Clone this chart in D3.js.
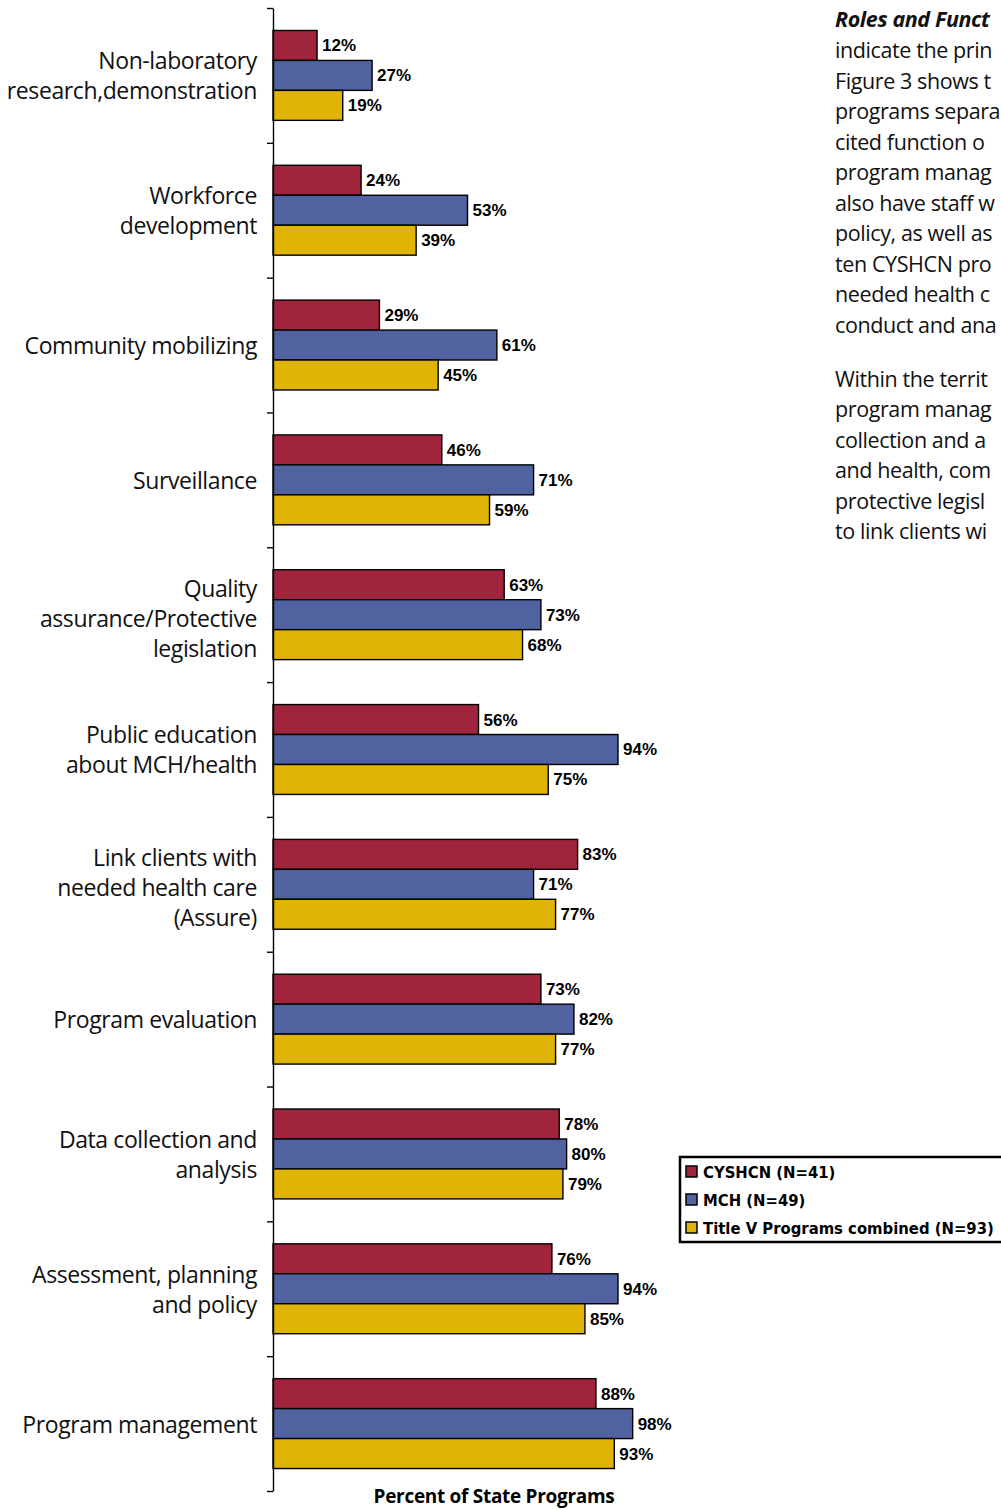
<!DOCTYPE html>
<html>
<head>
<meta charset="utf-8">
<script src="https://cdn.jsdelivr.net/npm/d3@7"></script>
<style>
  body { margin: 0; background: #fff; }
  svg { display: block; }
</style>
</head>
<body>
<div id="chart"></div>
<script>
// Categories, top to bottom, with line breaks as in the figure.
const categories = [
    ['Non-laboratory', 'research,demonstration'],
    ['Workforce', 'development'],
    ['Community mobilizing'],
    ['Surveillance'],
    ['Quality', 'assurance/Protective', 'legislation'],
    ['Public education', 'about MCH/health'],
    ['Link clients with', 'needed health care', '(Assure)'],
    ['Program evaluation'],
    ['Data collection and', 'analysis'],
    ['Assessment, planning', 'and policy'],
    ['Program management']
];
const seriesNames = ['CYSHCN (N=41)', 'MCH (N=49)', 'Title V Programs combined (N=93)'];
const cyshcn = [12, 24, 29, 46, 63, 56, 83, 73, 78, 76, 88];
const mch = [27, 53, 61, 71, 73, 94, 71, 82, 80, 94, 98];
const titleV = [19, 39, 45, 59, 68, 75, 77, 77, 79, 85, 93];
const colors = ['#a0243b', '#5062a0', '#dfb406'];
const xTitle = 'Percent of State Programs';

// Body text beside the chart, as far as it shows before the page edge.
const sideTitle = 'Roles and Funct';
const para1 = [
    'indicate the prin',
    'Figure 3 shows t',
    'programs separa',
    'cited function o',
    'program manag',
    'also have staff w',
    'policy, as well as',
    'ten CYSHCN pro',
    'needed health c',
    'conduct and ana'
];
const para2 = [
    'Within the territ',
    'program manag',
    'collection and a',
    'and health, com',
    'protective legisl',
    'to link clients wi'
];

const width = 1001, height = 1509;
const svg = d3.select('#chart')
    .append('svg')
        .attr('width', width)
        .attr('height', height)
        .attr('viewBox', `0 0 ${width} ${height}`);

const labelFont = "'Open Sans', 'Noto Sans', sans-serif";

// Scales.
const x = d3.scaleLinear()
    .domain([0, 100])
    .range([273, 640]);
const y0 = d3.scaleBand()
    .domain(d3.range(categories.length))
    .range([8, 1491]);
const y1 = d3.scaleBand()
    .domain(d3.range(seriesNames.length))
    .range([0, y0.bandwidth()])
    .paddingOuter(0.75);
const yTicks = d3.scaleLinear()
    .domain([0, categories.length])
    .range([8, 1491]);

const rows = categories.map((c, i) => ({
    lines: c,
    values: [cyshcn[i], mch[i], titleV[i]]
}));

// Bars.
const groups = svg.selectAll('g.cat')
    .data(rows)
    .enter()
    .append('g')
        .attr('class', 'cat')
        .attr('transform', (d, i) => `translate(0,${y0(i)})`);

groups.selectAll('rect')
    .data(d => d.values)
    .enter()
    .append('rect')
        .attr('x', x(0))
        .attr('y', (d, j) => y1(j))
        .attr('width', d => x(d) - x(0))
        .attr('height', y1.bandwidth())
        .attr('fill', (d, j) => colors[j])
        .attr('stroke', '#000')
        .attr('stroke-width', 1.4);

// Value labels.
groups.selectAll('text.val')
    .data(d => d.values)
    .enter()
    .append('text')
        .attr('class', 'val')
        .attr('x', d => x(d) + 5)
        .attr('y', (d, j) => y1(j) + y1.bandwidth() / 2 + 6)
        .style('font-family', "'Liberation Sans', Arial, sans-serif")
        .style('font-weight', 'bold')
        .style('font-size', '17px')
        .text(d => `${d}%`);

// Category labels.
groups.append('text')
    .attr('text-anchor', 'end')
    .style('font-family', labelFont)
    .style('font-size', '23px')
    .style('letter-spacing', '-0.4px')
    .attr('fill', '#111')
    .selectAll('tspan')
    .data(d => d.lines.map((t, k) => ({t, k, n: d.lines.length})))
    .enter()
    .append('tspan')
        .attr('x', 257)
        .attr('y', d => y0.bandwidth() / 2 + 9 + (d.n === 3 ? 3 : 0) + (d.k - (d.n - 1) / 2) * 30)
        .text(d => d.t);

// Y axis with ticks at the category boundaries.
svg.append('g')
    .attr('transform', `translate(${x(0)},0)`)
    .call(d3.axisLeft(yTicks)
        .tickValues(d3.range(categories.length + 1))
        .tickSize(6)
        .tickSizeOuter(0)
        .tickFormat(''))
    .call(g => g.selectAll('line, path').attr('stroke', '#000').attr('stroke-width', 1.4));

// X axis title.
svg.append('text')
    .attr('x', 494)
    .attr('y', 1503)
    .attr('text-anchor', 'middle')
    .style('font-family', labelFont)
    .style('font-weight', 'bold')
    .style('font-size', '19px')
    .style('letter-spacing', '-0.3px')
    .text(xTitle);

// Legend.
const legend = svg.append('g')
    .attr('transform', 'translate(680,1157)');
legend.append('rect')
    .attr('width', 340)
    .attr('height', 85)
    .attr('fill', '#fff')
    .attr('stroke', '#000')
    .attr('stroke-width', 2.5);
const items = legend.selectAll('g.item')
    .data(seriesNames)
    .enter()
    .append('g')
        .attr('class', 'item')
        .attr('transform', (d, j) => `translate(0,${9 + j * 28})`);
items.append('rect')
    .attr('x', 6)
    .attr('width', 11)
    .attr('height', 11)
    .attr('fill', (d, j) => colors[j])
    .attr('stroke', '#000')
    .attr('stroke-width', 1.5);
items.append('text')
    .attr('x', 23)
    .attr('y', 12)
    .style('font-family', "'DejaVu Sans Condensed', 'DejaVu Sans', sans-serif")
    .style('font-weight', 'bold')
    .style('font-size', '16.5px')
    .text(d => d);

// Side text.
const side = svg.append('g')
    .style('font-family', labelFont)
    .style('font-size', '21.5px')
    .style('letter-spacing', '-0.4px')
    .attr('fill', '#111');
side.append('text')
    .attr('x', 835)
    .attr('y', 27)
    .style('font-weight', 'bold')
    .style('font-style', 'italic')
    .text(sideTitle);
side.selectAll('text.p1')
    .data(para1)
    .enter()
    .append('text')
        .attr('class', 'p1')
        .attr('x', 835)
        .attr('y', (d, i) => 58 + i * 30.5)
        .text(d => d);
side.selectAll('text.p2')
    .data(para2)
    .enter()
    .append('text')
        .attr('class', 'p2')
        .attr('x', 835)
        .attr('y', (d, i) => 387 + i * 30.4)
        .text(d => d);
</script>
</body>
</html>
